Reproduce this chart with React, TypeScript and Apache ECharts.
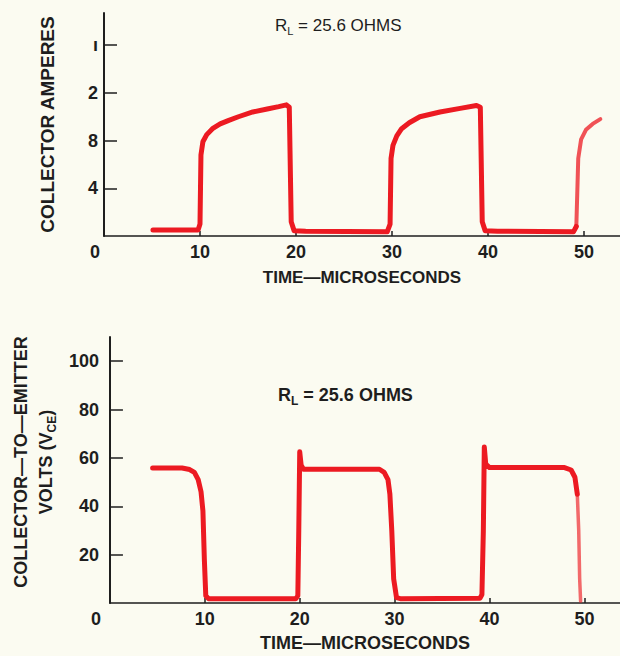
import React, { useEffect, useRef } from "react";
import * as echarts from "echarts";

// ---- data ----
const X_TICKS = [0, 10, 20, 30, 40, 50];
const X_TICK_MARKS = [10, 20, 30, 40, 50];
const AMP_TICKS = [4, 8, 12, 16];
const AMP_TICK_LABELS = ["4", "8", "2", "ı"]; // left digits cut off in the reference
const VOLT_TICKS = [20, 40, 60, 80, 100];

const ampTime = [5.1, 9.8, 10.0, 10.1, 10.3, 10.7, 11.3, 12.1, 13.0, 14.0, 15.5, 17.0, 18.2, 19.0, 19.3, 19.5, 19.8, 21, 29.5,
  29.8, 29.9, 30.1, 30.5, 31.0, 31.8, 32.9, 35.0, 37.1, 38.8, 39.2, 39.4, 39.7, 41, 48.9, 49.2];
const ampValue = [0.5, 0.5, 1.0, 6.8, 7.9, 8.5, 9.0, 9.4, 9.7, 10.0, 10.4, 10.65, 10.85, 11.0, 10.8, 1.2, 0.45, 0.4, 0.35,
  1.0, 6.5, 7.6, 8.4, 9.0, 9.5, 10.0, 10.4, 10.7, 10.95, 10.8, 1.2, 0.45, 0.4, 0.35, 0.8];
const ampTailTime = [49.2, 49.4, 49.7, 50.2, 50.9, 51.7];
const ampTailValue = [0.8, 6.5, 8.1, 8.9, 9.4, 9.8];

const voltTime = [4.5, 7.6, 8.4, 8.9, 9.3, 9.6, 9.8, 9.95, 10.1, 10.4, 19.6, 19.8, 19.9, 20.0, 20.15, 20.4, 28.4, 28.9, 29.3, 29.5,
  29.7, 29.9, 30.2, 30.6, 39.0, 39.2, 39.35, 39.45, 39.6, 40.0, 47.9, 48.6, 49.0, 49.25];
const voltValue = [55.8, 55.8, 55.2, 54, 51, 46, 38, 18, 3, 1.8, 1.8, 3, 30, 62.5, 57, 55.3, 55.3, 54, 51, 45,
  30, 10, 2.2, 1.8, 2.0, 3.5, 30, 64.5, 57.5, 56, 56, 55, 52, 45];
const voltTailTime = [49.25, 49.4, 49.5, 49.6];
const voltTailValue = [45, 30, 10, 0.8];

const zip = (xs: number[], ys: number[]) => xs.map((x, i) => [x, ys[i]]);

const RED = "#ec1a22";
const INK = "#1e1e1e";
const FONT = "Liberation Sans, Arial, sans-serif";
const BG = "#fbfbf1";

export default function App() {
  const ref = useRef<HTMLDivElement>(null);

  useEffect(() => {
    if (!ref.current) return;
    const chart = echarts.init(ref.current, null, { renderer: "svg" });

    const xAxisCommon = (zeroPad: number, nameGap: number, nameSize: number) => ({
      type: "value" as const,
      min: 0,
      max: 53.75,
      interval: 10,
      name: "TIME—MICROSECONDS",
      nameLocation: "middle" as const,
      nameGap,
      nameTextStyle: { fontFamily: FONT, fontWeight: "bold", fontSize: nameSize, color: INK },
      axisLine: { show: true, lineStyle: { color: INK, width: 1.5 } },
      axisTick: { show: true, inside: true, length: 5, customValues: X_TICK_MARKS, lineStyle: { color: INK, width: 1.5 } },
      axisLabel: {
        customValues: X_TICKS,
        margin: 7,
        fontFamily: FONT,
        fontWeight: "bold",
        fontSize: 18,
        color: INK,
        formatter: (v: number) => (v === 0 ? "{z|0}" : String(v)),
        rich: { z: { fontFamily: FONT, fontWeight: "bold", fontSize: 18, color: INK, padding: [0, zeroPad, 0, 0] } },
      },
      splitLine: { show: false },
    });

    const option: any = {
      animation: false,
      backgroundColor: BG,
      title: [
        {
          text: "{r|R}{s|L}{r| = 25.6 OHMS}",
          left: 270,
          top: 9,
          textStyle: {
            fontWeight: "normal",
            rich: {
              r: { fontFamily: FONT, fontWeight: "normal", fontSize: 17, color: INK, lineHeight: 22, verticalAlign: "middle" },
              s: { fontFamily: FONT, fontWeight: "normal", fontSize: 11, color: INK, lineHeight: 22, verticalAlign: "bottom" },
            },
          },
        },
        {
          text: "{r|R}{s|L}{r| = 25.6 OHMS}",
          left: 273,
          top: 378,
          textStyle: {
            rich: {
              r: { fontFamily: FONT, fontWeight: "bold", fontSize: 18, color: INK, lineHeight: 24, verticalAlign: "middle" },
              s: { fontFamily: FONT, fontWeight: "bold", fontSize: 12, color: INK, lineHeight: 24, verticalAlign: "bottom" },
            },
          },
        },
      ],
      grid: [
        { left: 104, top: 13, width: 516, height: 223 },
        { left: 104, top: 337, width: 516, height: 266 },
      ],
      xAxis: [
        { ...xAxisCommon(18, 33, 17), gridIndex: 0 },
        { ...xAxisCommon(28, 31, 18), gridIndex: 1 },
      ],
      yAxis: [
        {
          type: "value",
          gridIndex: 0,
          min: 0,
          max: 18.7,
          interval: 4,
          name: "COLLECTOR AMPERES",
          nameLocation: "middle",
          nameRotate: 90,
          nameGap: 47,
          nameTextStyle: { fontFamily: FONT, fontWeight: "bold", fontSize: 19, color: INK },
          axisLine: { show: true, lineStyle: { color: INK, width: 2 } },
          axisTick: { show: true, inside: true, length: 13, customValues: AMP_TICKS, lineStyle: { color: INK, width: 1.5 } },
          axisLabel: {
            customValues: AMP_TICKS,
            margin: 6,
            fontFamily: FONT,
            fontWeight: "bold",
            fontSize: 18,
            color: INK,
            formatter: (v: number) => AMP_TICK_LABELS[AMP_TICKS.indexOf(v)] ?? "",
          },
          splitLine: { show: false },
        },
        {
          type: "value",
          gridIndex: 1,
          min: 0,
          max: 110,
          interval: 20,
          name: "COLLECTOR—TO—EMITTER\nVOLTS (V{s|CE})",
          nameLocation: "middle",
          nameRotate: 90,
          nameGap: 47,
          nameTextStyle: {
            fontFamily: FONT,
            fontWeight: "bold",
            fontSize: 18,
            color: INK,
            lineHeight: 25,
            padding: [0, 0, 0, 16],
            rich: { s: { fontFamily: FONT, fontWeight: "bold", fontSize: 12, color: INK, verticalAlign: "bottom", lineHeight: 25 } },
          },
          axisLine: { show: true, lineStyle: { color: INK, width: 2 } },
          axisTick: { show: true, inside: true, length: 13, customValues: VOLT_TICKS, lineStyle: { color: INK, width: 1.5 } },
          axisLabel: {
            customValues: VOLT_TICKS,
            margin: 11,
            fontFamily: FONT,
            fontWeight: "bold",
            fontSize: 18,
            color: INK,
          },
          splitLine: { show: false },
        },
      ],
      series: [
        {
          type: "line",
          xAxisIndex: 0,
          yAxisIndex: 0,
          data: zip(ampTime, ampValue),
          showSymbol: false,
          lineStyle: { color: RED, width: 5, join: "round", cap: "round" },
        },
        {
          type: "line",
          xAxisIndex: 0,
          yAxisIndex: 0,
          data: zip(ampTailTime, ampTailValue),
          showSymbol: false,
          lineStyle: { color: RED, width: 4, opacity: 0.75, join: "round", cap: "round" },
        },
        {
          type: "line",
          xAxisIndex: 1,
          yAxisIndex: 1,
          data: zip(voltTime, voltValue),
          showSymbol: false,
          lineStyle: { color: RED, width: 5, join: "round", cap: "round" },
        },
        {
          type: "line",
          xAxisIndex: 1,
          yAxisIndex: 1,
          data: zip(voltTailTime, voltTailValue),
          showSymbol: false,
          lineStyle: { color: RED, width: 3.5, opacity: 0.65, join: "round", cap: "round" },
        },
      ],
    };

    chart.setOption(option);
    return () => chart.dispose();
  }, []);

  return (
    <div style={{ position: "fixed", left: 0, top: 0, width: 620, height: 656, background: BG }}>
      <div ref={ref} style={{ width: 620, height: 656 }} />
    </div>
  );
}
